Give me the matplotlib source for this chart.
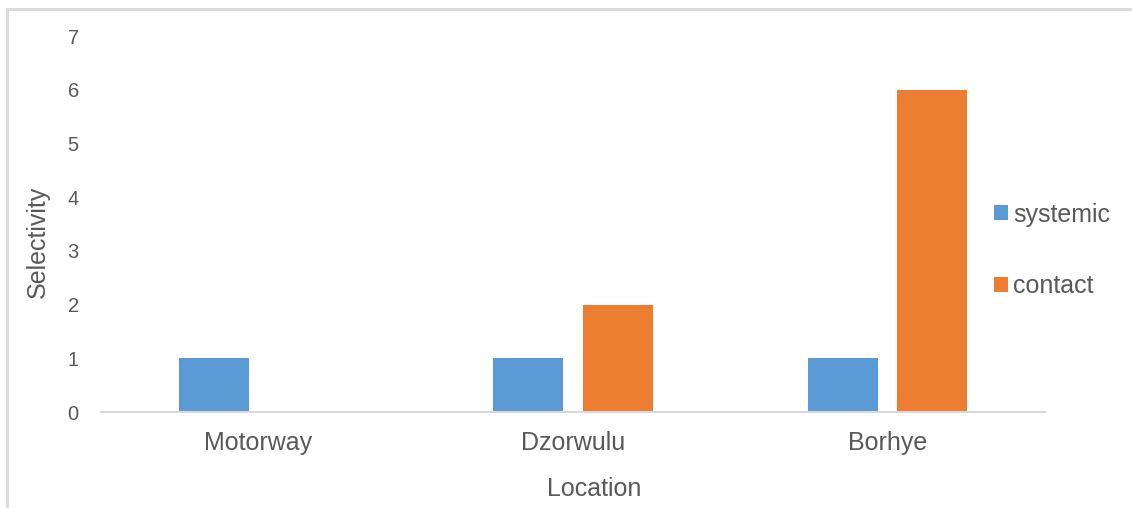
import numpy as np
import matplotlib
import matplotlib.pyplot as plt
from matplotlib.lines import Line2D

matplotlib.rc('font', family=['Liberation Sans', 'DejaVu Sans'])

locations = ['Motorway', 'Dzorwulu', 'Borhye']
systemic = [1, 1, 1]
contact = [0, 2, 6]
y_ticks = [0, 1, 2, 3, 4, 5, 6, 7]

text_color = '#595959'
blue = '#5B9BD5'
orange = '#ED7D31'

fig = plt.figure(figsize=(11.32, 5.08), dpi=100)
ax = fig.add_axes([101 / 1132, 1 - 412 / 508, 944 / 1132, 376 / 508])

x = np.arange(len(locations))
w = 0.222
ax.bar(x - 0.142, systemic, w, color=blue, label='systemic')
ax.bar(x + 0.142, contact, w, color=orange, label='contact')

ax.set_xlim(-0.5, 2.5)
ax.set_ylim(0, 7)
ax.set_yticks(y_ticks)
ax.set_xticks(x)
ax.set_xticklabels(locations)

for side in ['top', 'right', 'left']:
    ax.spines[side].set_visible(False)
ax.spines['bottom'].set_color('#D9D9D9')
ax.spines['bottom'].set_linewidth(1.5)

ax.tick_params(axis='y', length=0, pad=16, labelsize=14.5, labelcolor=text_color)
ax.tick_params(axis='x', length=0, pad=14, labelsize=18, labelcolor=text_color)

ax.set_xlabel('Location', fontsize=18, color=text_color)
ax.set_ylabel('Selectivity', fontsize=18, color=text_color)
ax.xaxis.set_label_coords(0.522, -0.172)
ax.yaxis.set_label_coords(-0.054, 0.452)

ax.legend(loc='center left', bbox_to_anchor=(0.946, 0.43), frameon=False,
          fontsize=18, labelcolor=text_color, handlelength=0.56, handleheight=0.56,
          handletextpad=0.2, labelspacing=1.9, borderpad=0, borderaxespad=0)

# chart border (top and left visible)
fig.add_artist(Line2D([7 / 1132, 7 / 1132], [0, 1 - 9 / 508],
                      transform=fig.transFigure, color='#D9D9D9', lw=2))
fig.add_artist(Line2D([7 / 1132, 1], [1 - 9 / 508, 1 - 9 / 508],
                      transform=fig.transFigure, color='#D9D9D9', lw=2))

plt.savefig('out.png', dpi=100)
